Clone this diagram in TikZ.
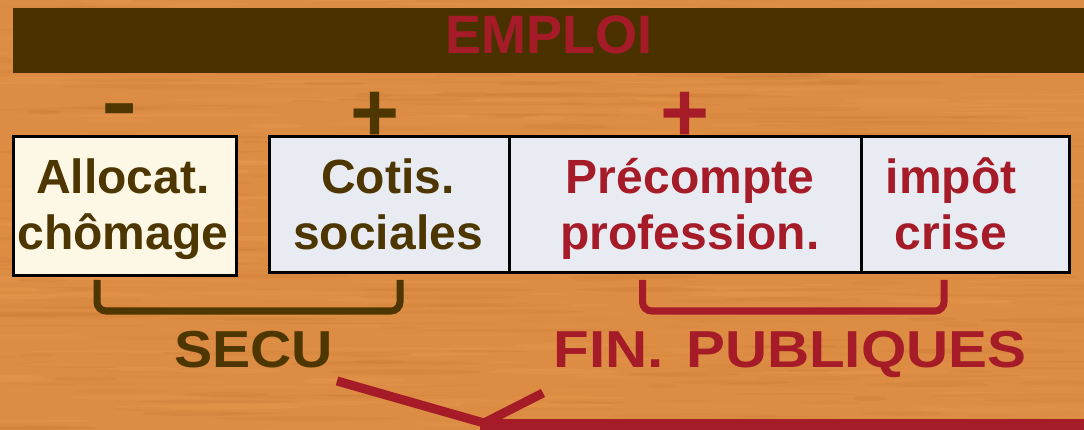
\documentclass[tikz,border=0pt]{standalone}
\usepackage{fontspec}
\setmainfont{Liberation Sans}
\definecolor{woodbase}{HTML}{DD8D43}
\definecolor{wood0}{HTML}{EEA257}
\definecolor{wood1}{HTML}{C27430}
\definecolor{barbrown}{HTML}{4A3200}
\definecolor{txtbrown}{HTML}{4E3600}
\definecolor{txtred}{HTML}{A61B28}
\definecolor{creamfill}{HTML}{FDF8E6}
\definecolor{greyfill}{HTML}{E8ECF2}
\tikzset{
  cellbox/.style={draw=black, line width=3pt, inner sep=0pt, outer sep=0pt},
  celltext/.style={font=\fontsize{48}{56}\selectfont\bfseries, align=center, inner sep=0pt},
  bigtext/.style={font=\fontsize{54}{60}\selectfont\bfseries, inner sep=0pt, anchor=base},
  widetext/.style={font=\fontsize{52}{60}\selectfont\bfseries, inner sep=0pt, anchor=base, xscale=1.1},
  signtext/.style={font=\fontsize{84}{90}\selectfont\bfseries, inner sep=0pt, anchor=base},
  bracket/.style={line width=7pt, rounded corners=9pt, line cap=butt},
}
\begin{document}
\begin{tikzpicture}[x=1pt,y=-1pt]
\useasboundingbox (0,0) rectangle (1084,430);
\begin{scope}
  \clip (0,0) rectangle (1084,430);
  \fill[woodbase] (0,0) rectangle (1084,430);
  \pgfmathsetseed{11}
  \foreach \i in {1,...,700}{
    \pgfmathsetmacro\xa{rnd*1084}
    \pgfmathsetmacro\ya{rnd*430}
    \pgfmathsetmacro\len{15+rnd*90}
    \pgfmathsetmacro\hh{0.6+rnd*2.2}
    \pgfmathsetmacro\op{0.08+0.16*rnd}
    \pgfmathrandominteger{\cc}{0}{1}
    \fill[wood\cc, opacity=\op] (\xa,\ya) ellipse [x radius=\len, y radius=\hh];
  }
  % bottom red mark
  \draw[txtred, line width=9pt, line join=miter] (337,381) -- (484,423) -- (543,393);
  \draw[txtred, line width=13pt] (480,425) -- (1090,425);
\end{scope}

% top bar
\node[fill=barbrown, inner sep=0pt, minimum width=1075pt, minimum height=65pt] (bar) at (550.5,40.5) {};
\node[bigtext, txtred] (emploi) at (549,54) {EMPLOI};

% signs
\node[signtext, txtbrown, xscale=1.3] (minus) at (120,131) {-};
\node[signtext, txtbrown] (plusA) at (375,142) {+};
\node[signtext, txtred] (plusB) at (685,142) {+};

% boxes
\node[cellbox, fill=creamfill, minimum width=223pt, minimum height=139pt] (alloc) at (125,206) {};
\node[cellbox, fill=greyfill, minimum width=239.5pt, minimum height=136pt] (cotis) at (389.25,204.5) {};
\node[cellbox, fill=greyfill, minimum width=352pt, minimum height=136pt] (prec) at (685,204.5) {};
\node[cellbox, fill=greyfill, minimum width=208.5pt, minimum height=136pt] (impot) at (965.25,204.5) {};

\node[celltext, txtbrown] (allocT) at (123,210) {\strut Allocat.\\\strut chômage};
\node[celltext, txtbrown] (cotisT) at (388,210) {\strut Cotis.\\\strut sociales};
\node[celltext, txtred] (precT) at (690,210) {\strut Précompte\\\strut profession.};
\node[celltext, txtred] (impotT) at (951,210) {\strut impôt\\\strut crise};

% brackets
\draw[bracket, txtbrown] (97,280) -- (97,311) -- (400,311) -- (400,280);
\draw[bracket, txtred] (642.5,280) -- (642.5,311) -- (944,311) -- (944,280);

\node[widetext, txtbrown] (secu) at (253.5,367) {SECU};
\node[widetext, txtred, xscale=1.02] (finp) at (790,367) {FIN.\hspace{20pt}PUBLIQUES};
\end{tikzpicture}
\end{document}
